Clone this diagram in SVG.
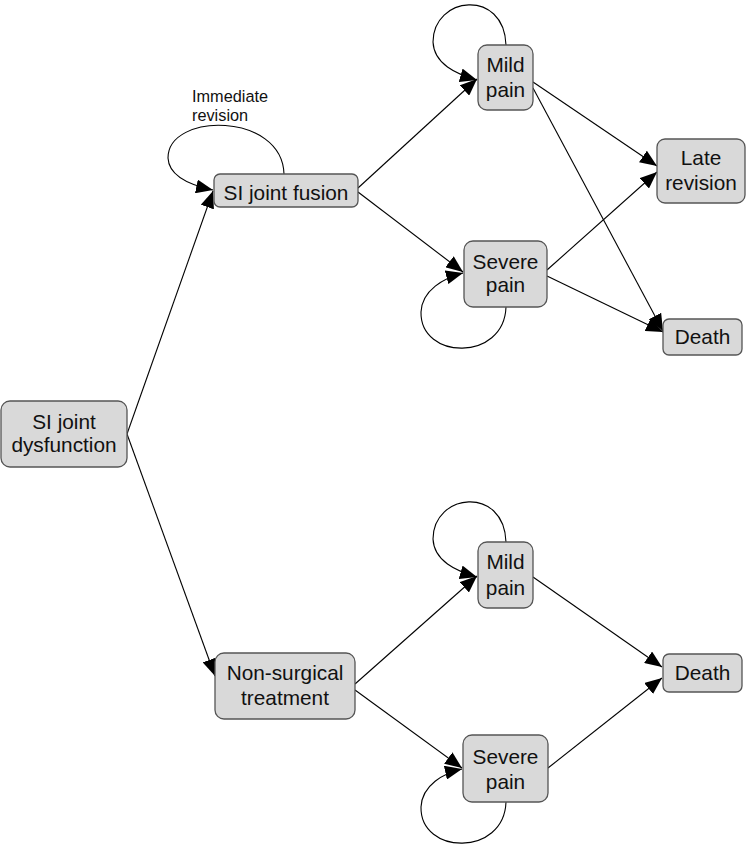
<svg xmlns="http://www.w3.org/2000/svg" width="746" height="847" viewBox="0 0 746 847">
<defs>
<marker id="arr" markerUnits="userSpaceOnUse" markerWidth="18" markerHeight="14" refX="17" refY="7" orient="auto">
<path d="M0,0 L17,7 L0,14 z" fill="#000"/>
</marker>
<style>
.box{fill:#d9d9d9;stroke:#555;stroke-width:1.3}
.lbl{font-family:"Liberation Sans",Arial,sans-serif;font-size:20.8px;fill:#111;text-anchor:middle}
.sm{font-family:"Liberation Sans",Arial,sans-serif;font-size:16.3px;fill:#111}
.e{fill:none;stroke:#000;stroke-width:1.1;marker-end:url(#arr)}
</style>
</defs>
<rect width="746" height="847" fill="#fff"/>
<g id="connectors">
<path class="e" d="M127,434 L213,191"/>
<path class="e" d="M127,434 L215,676"/>
<path class="e" d="M358,188 L477,79"/>
<path class="e" d="M358,192 L463,272"/>
<path class="e" d="M284,174 C282,112 168,112 168,158 C169,178 194,186 213,190"/>
<path class="e" d="M506,45 C504,-12 433,-4 433,42 C434,64 456,74 477,80"/>
<path class="e" d="M533,82 L657,166"/>
<path class="e" d="M533,88 L663,331"/>
<path class="e" d="M506,307 C504,362 420,360 421,312 C422,290 444,278 463,273"/>
<path class="e" d="M547,270 L657,172"/>
<path class="e" d="M547,276 L663,332"/>
<path class="e" d="M355,684 L477,576"/>
<path class="e" d="M355,690 L462,768"/>
<path class="e" d="M506,542 C504,485 433,493 433,539 C434,561 456,571 477,577"/>
<path class="e" d="M506,802 C504,857 420,855 421,807 C422,785 444,773 462,769"/>
<path class="e" d="M533,577 L662,667"/>
<path class="e" d="M548,768 L662,678"/>
</g>
<g id="n-dysfunction">
<rect class="box" x="1" y="401" width="126" height="66" rx="9"/>
<text class="lbl" x="64" y="429">SI joint</text>
<text class="lbl" x="64" y="452">dysfunction</text>
</g>
<g id="n-fusion">
<rect class="box" x="214" y="174" width="144" height="33" rx="6"/>
<text class="lbl" x="286" y="200">SI joint fusion</text>
</g>
<g id="n-immediate-label">
<text class="sm" x="192" y="102">Immediate</text>
<text class="sm" x="192" y="121">revision</text>
</g>
<g id="n-mild1">
<rect class="box" x="478" y="45" width="55" height="65" rx="9"/>
<text class="lbl" x="505.5" y="72">Mild</text>
<text class="lbl" x="505.5" y="97">pain</text>
</g>
<g id="n-severe1">
<rect class="box" x="464" y="241" width="83" height="66" rx="9"/>
<text class="lbl" x="505.5" y="269">Severe</text>
<text class="lbl" x="505.5" y="292">pain</text>
</g>
<g id="n-late">
<rect class="box" x="657" y="139" width="88" height="64" rx="8"/>
<text class="lbl" x="701" y="165">Late</text>
<text class="lbl" x="701" y="190">revision</text>
</g>
<g id="n-death1">
<rect class="box" x="663" y="319" width="79" height="36" rx="6"/>
<text class="lbl" x="702.5" y="344">Death</text>
</g>
<g id="n-nonsurgical">
<rect class="box" x="215" y="653" width="140" height="66" rx="9"/>
<text class="lbl" x="285" y="680">Non-surgical</text>
<text class="lbl" x="285" y="705">treatment</text>
</g>
<g id="n-mild2">
<rect class="box" x="478" y="542" width="55" height="66" rx="9"/>
<text class="lbl" x="505.5" y="569">Mild</text>
<text class="lbl" x="505.5" y="595">pain</text>
</g>
<g id="n-severe2">
<rect class="box" x="463" y="735" width="85" height="67" rx="9"/>
<text class="lbl" x="505.5" y="764">Severe</text>
<text class="lbl" x="505.5" y="789">pain</text>
</g>
<g id="n-death2">
<rect class="box" x="663" y="654" width="79" height="38" rx="6"/>
<text class="lbl" x="702.5" y="680">Death</text>
</g>
</svg>
